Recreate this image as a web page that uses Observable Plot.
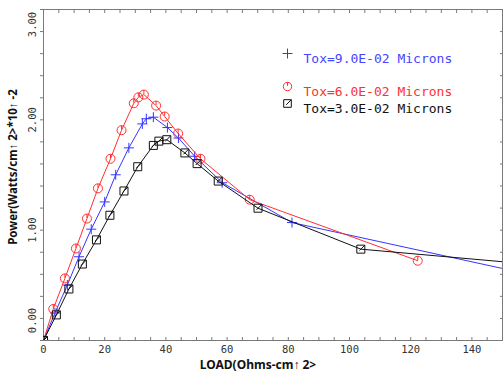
<!DOCTYPE html>
<html>
<head>
<meta charset="utf-8">
<script src="https://cdn.jsdelivr.net/npm/d3@7"></script>
<script src="https://cdn.jsdelivr.net/npm/@observablehq/plot@0.6"></script>
<style>
  html, body { margin: 0; padding: 0; background: #fff; }
  #chart svg { display: block; }
</style>
</head>
<body>
<div id="chart"></div>
<script>
// ---- data ----
const seriesNames = ["Tox=9.0E-02 Microns", "Tox=6.0E-02 Microns", "Tox=3.0E-02 Microns"];

const blueX = [0, 3.75, 7.8, 11.6, 15.6, 20.0, 23.6, 27.9, 32.3, 33.6, 35.9, 40.5, 44.1, 49.4, 58.4, 81.2, 162];
const blueY = [0, 0.25, 0.503, 0.759, 1.009, 1.256, 1.502, 1.746, 1.963, 2.01, 2.024, 1.93, 1.835, 1.67, 1.43, 1.069, 0.58];

const redX = [0, 3.2, 7.0, 10.6, 14.2, 17.8, 21.9, 25.5, 29.5, 31.0, 32.8, 36.8, 39.6, 44.0, 51.3, 67.4, 122.3];
const redY = [0, 0.286, 0.563, 0.834, 1.105, 1.379, 1.647, 1.906, 2.15, 2.204, 2.229, 2.129, 2.03, 1.876, 1.647, 1.276, 0.723];

const blackX = [0, 4.2, 8.3, 12.7, 17.3, 21.7, 26.3, 30.8, 35.9, 37.7, 40.3, 46.2, 50.2, 57.1, 70.1, 103.7, 165];
const blackY = [0, 0.232, 0.467, 0.693, 0.912, 1.135, 1.355, 1.575, 1.768, 1.807, 1.82, 1.70, 1.603, 1.445, 1.199, 0.828, 0.677];

const xTickLabels = [0, 20, 40, 60, 80, 100, 120, 140];
const yTickLabels = [0, 1, 2, 3];
const xMinorTicks = [0,5,10,15,20,25,30,35,40,45,50,55,60,65,70,75,80,85,90,95,100,105,110,115,120,125,130,135,140,145,150];
const yMinorTicks = [0,0.2,0.4,0.6,0.8,1,1.2,1.4,1.6,1.8,2,2.2,2.4,2.6,2.8,3];

const xTitle = "LOAD(Ohms-cm\u2191 2>";
const yTitle = "Power(Watts/cm\u2191 2>*10\u2191 -2";

// ---- styling ----
const BLUE = "#3535ff", RED = "#ff3030", BLACK = "#111";
const MONO = "'DejaVu Sans Mono', 'Liberation Mono', monospace";
const SANS = "'Noto Sans', 'Open Sans', sans-serif";
const FRAME = "#7a7a7a";

// custom plotting symbols
const plusSym = { draw(ctx, size) { const r = Math.sqrt(size / Math.PI);
  ctx.moveTo(-r, 0); ctx.lineTo(r, 0); ctx.moveTo(0, -r); ctx.lineTo(0, r); } };
const circleSym = { draw(ctx, size) { const r = Math.sqrt(size / Math.PI);
  ctx.moveTo(r, 0); ctx.arc(0, 0, r, 0, 2 * Math.PI); ctx.moveTo(0, -r); ctx.lineTo(0, -r * 0.15); } };
const squareSym = { draw(ctx, size) { const r = Math.sqrt(size / Math.PI);
  ctx.rect(-r, -r, 2 * r, 2 * r); ctx.moveTo(-r * 0.35, r * 0.35); ctx.lineTo(r, -r); } };

const mk = (xs, ys) => xs.map((x, i) => ({x, y: ys[i]}));
const blue = mk(blueX, blueY), red = mk(redX, redY), black = mk(blackX, blackY);

const series = [
  {data: blue, color: BLUE, sym: plusSym, r: 5, lr: 5, name: seriesNames[0], dy: 44},
  {data: red, color: RED, sym: circleSym, r: 4.5, lr: 4.2, name: seriesNames[1], dy: 77},
  {data: black, color: BLACK, sym: squareSym, r: 4, lr: 3.8, name: seriesNames[2], dy: 94}
];

const marks = [];
marks.push(Plot.frame({stroke: FRAME}));
// tick marks
marks.push(Plot.axisX({anchor: "bottom", ticks: xMinorTicks, tickSize: -3, fill: "none", stroke: FRAME, label: null}));
marks.push(Plot.axisX({anchor: "top", ticks: xMinorTicks, tickSize: -3, fill: "none", stroke: FRAME, label: null}));
marks.push(Plot.axisY({anchor: "left", ticks: yMinorTicks, tickSize: 3, fill: "none", stroke: FRAME, label: null}));
marks.push(Plot.axisY({anchor: "right", ticks: yMinorTicks, tickSize: -3, fill: "none", stroke: FRAME, label: null}));

// tick labels
const yLab = {frameAnchor: "left", dx: -11, rotate: -90, textAnchor: "middle", lineAnchor: "middle",
  text: d => d.toFixed(2), fontFamily: MONO, fontSize: 10.5, fill: "#333"};
marks.push(Plot.text(xTickLabels, {x: d => d, frameAnchor: "bottom", dy: 12, text: d => String(d),
  textAnchor: "middle", fontFamily: MONO, fontSize: 10.5, fill: "#333"}));
marks.push(Plot.text(yTickLabels.filter(d => d > 0 && d < 3), {...yLab, y: d => d}));
marks.push(Plot.text(yTickLabels.filter(d => d === 0), {...yLab, y: d => d, dy: -20}));
marks.push(Plot.text(yTickLabels.filter(d => d === 3), {...yLab, y: d => d, dy: 15}));

// axis titles
marks.push(Plot.text([xTitle], {frameAnchor: "bottom", dx: -15, dy: 28, text: d => d, textAnchor: "middle",
  fontFamily: SANS, fontWeight: 700, fontSize: 12, fill: "#111"}));
marks.push(Plot.text([yTitle], {frameAnchor: "left", dx: -30, dy: -8, rotate: -90, text: d => d, textAnchor: "middle",
  fontFamily: SANS, fontWeight: 700, fontSize: 11.5, fill: "#111"}));

// series
for (const s of series) {
  marks.push(Plot.line(s.data, {x: "x", y: "y", stroke: s.color, strokeWidth: 1, clip: true}));
  marks.push(Plot.dot(s.data, {x: "x", y: "y", symbol: s.sym, r: s.r, stroke: s.color, fill: "none", strokeWidth: 1, clip: true}));
}

// legend
for (const s of series) {
  marks.push(Plot.dot([s], {frameAnchor: "top-left", dx: 244, dy: s.dy, symbol: s.sym, r: s.lr, stroke: s.color, fill: "none", strokeWidth: 1}));
  marks.push(Plot.text([s], {frameAnchor: "top-left", dx: 260, dy: s.dy, text: d => d.name, textAnchor: "start",
    fontFamily: MONO, fontSize: 13, fill: s.color === BLUE ? "#4545ff" : s.color}));
}

const chart = Plot.plot({
  width: 503, height: 379,
  marginLeft: 43, marginRight: 1, marginTop: 9, marginBottom: 39,
  x: {domain: [0, 150], axis: null},
  y: {domain: [0, 3], axis: null},
  style: {background: "#fff", overflow: "visible"},
  marks
});
document.getElementById("chart").appendChild(chart);
</script>
</body>
</html>
